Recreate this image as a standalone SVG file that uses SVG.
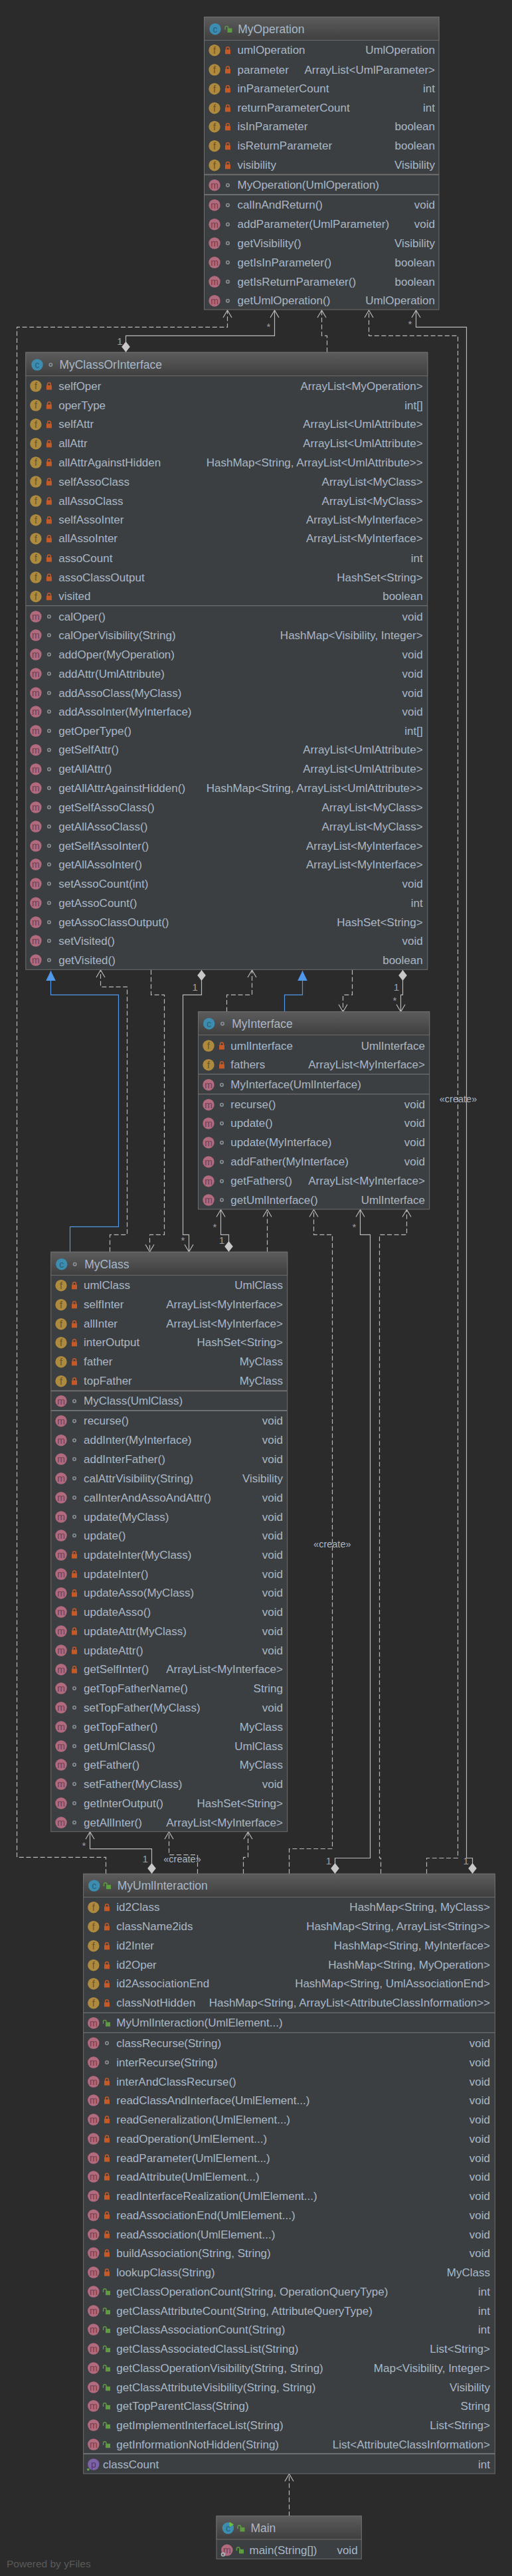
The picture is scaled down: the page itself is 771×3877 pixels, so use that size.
<svg xmlns="http://www.w3.org/2000/svg" width="771" height="3877" viewBox="0 0 771 3877">
<style>
text{font-family:"Liberation Sans",Arial,sans-serif;font-size:17px;fill:#A9B7C6;dominant-baseline:central}
.r{text-anchor:end}
.g{font-size:14px;text-anchor:middle}
.t{font-size:17.5px}
.n{font-size:15px;fill:#A0A0A0;text-anchor:middle}
.cr{font-size:14.5px;text-anchor:middle;fill:#A9B7C6}
.box{fill:#3C3F41;stroke:#6E6E6E;stroke-width:1}
.hd{fill:url(#hg);stroke:#6E6E6E;stroke-width:1}
.sep{stroke:#6E6E6E;stroke-width:1.2;fill:none}
.sep2{stroke:#6E6E6E;stroke-width:2;fill:none}
.c{fill:none;stroke:#B9B9B9;stroke-width:1.2;marker-end:url(#oa)}
.d{stroke-dasharray:7 3.6}
.dm{marker-start:url(#dia)}
.b{fill:none;stroke:#4F98EA;stroke-width:1.2;marker-end:url(#ta)}
</style>
<defs>
<linearGradient id="hg" x1="0" y1="0" x2="0" y2="1"><stop offset="0" stop-color="#5C5C5C"/><stop offset="1" stop-color="#3F3F3F"/></linearGradient>
<marker id="oa" markerUnits="userSpaceOnUse" markerWidth="16" markerHeight="18" refX="13" refY="8" orient="auto"><path d="M2,1.5 L13,8 L2,14.5" fill="none" stroke="#B9B9B9" stroke-width="1.2"/></marker>
<marker id="ta" markerUnits="userSpaceOnUse" markerWidth="18" markerHeight="18" refX="15" refY="8" orient="auto"><path d="M0,0.7 L15,8 L0,15.3Z" fill="#4F98EA"/></marker>
<marker id="dia" markerUnits="userSpaceOnUse" markerWidth="18" markerHeight="15" refX="0" refY="7" orient="auto"><path d="M0,7 L8,0.7 L16,7 L8,13.3Z" fill="#C8C8C8"/></marker>
<g id="if"><circle r="8.7" fill="#AE8A3F"/><text class="g" style="fill:#6B5324">f</text></g>
<g id="im"><circle r="8.7" fill="#B26A7E"/><text class="g" style="fill:#6F3F4C">m</text></g>
<g id="ic"><circle r="8.7" fill="#3C8DB0"/><text class="g" style="fill:#285F78">c</text></g>
<g id="ip"><circle r="8.7" fill="#7C62A6"/><text class="g" style="fill:#4C3A6E">p</text></g>
<g id="lk"><rect x="-4" y="-1.2" width="8" height="6.8" fill="#C45A28"/><path d="M-2.4,-1 v-1.6 a2.4,2.4 0 0 1 4.8,0 v1.6" fill="none" stroke="#C45A28" stroke-width="1.5"/></g>
<g id="ol"><rect x="-1" y="-1.2" width="7" height="6.4" fill="#5E9C42"/><path d="M-4.5,1 v-3 a2.3,2.3 0 0 1 4.6,0 v1.5" fill="none" stroke="#5E9C42" stroke-width="1.4"/></g>
<g id="dt"><circle r="2.2" fill="none" stroke="#8A9298" stroke-width="1.6"/></g>
</defs>
<rect width="771" height="3877" fill="#2B2B2B"/>

<g id="connectors">
<path class="c d" d="M159.5,2820 V2795.3 H25.5 V492.3 H342.5 V467"/>
<path class="c dm" d="M189.5,530 V505.3 H413.5 V467"/>
<path class="c d" d="M492.5,530 V505.3 H484.5 V467"/>
<path class="c d" d="M642.5,2820 V2796.5 H689.5 V505.3 H555.5 V467"/>
<path class="c dm" d="M711.5,2820 V2796.5 H702.5 V492.3 H626.5 V467"/>
<path class="b" d="M105.5,1884 V1846.3 H178.5 V1497.3 H76.5 V1461"/>
<path class="c d" d="M165.5,1884 V1858.3 H191.5 V1485.3 H151.5 V1460"/>
<path class="c d" d="M227.5,1460 V1497.3 H247.5 V1858.3 H225.5 V1884"/>
<path class="c dm" d="M303.5,1460 V1497.3 H275.5 V1858.3 H284.5 V1884"/>
<path class="c d" d="M341.5,1522.7 V1497.3 H379.5 V1460"/>
<path class="b" d="M428.5,1522.7 V1497.3 H455.5 V1461"/>
<path class="c d" d="M530.5,1460 V1497.3 H516.5 V1522.7"/>
<path class="c dm" d="M606.5,1460 V1497.3 H603.5 V1522.7"/>
<path class="c dm" d="M344.5,1884 V1858.3 H332.5 V1820.5"/>
<path class="c d" d="M402.5,1884 V1820.5"/>
<path class="c d" d="M435.5,2820 V2782.5 H500.5 V1858.3 H472.5 V1820.5"/>
<path class="c dm" d="M504.5,2820 V2796.5 H557.5 V1858.3 H542.5 V1820.5"/>
<path class="c d" d="M573.5,2820 V2796.5 H571.5 V1858.3 H612.5 V1820.5"/>
<path class="c dm" d="M228.5,2820 V2782.7 H135.5 V2757"/>
<path class="c d" d="M297.5,2820 V2791.7 H254.5 V2757"/>
<path class="c d" d="M366.5,2820 V2795.3 H373.5 V2757"/>
<path class="c d" d="M435.5,3787 V3723.5"/>
<text class="n" x="404.3" y="491">*</text>
<text class="n" x="617.3" y="487">*</text>
<text class="n" x="180.4" y="513">1</text>
<text class="n" x="293.7" y="1485">1</text>
<text class="n" x="597" y="1485">1</text>
<text class="n" x="594.3" y="1505">*</text>
<text class="n" x="323.3" y="1846">*</text>
<text class="n" x="334" y="1866">1</text>
<text class="n" x="533.3" y="1846">*</text>
<text class="n" x="275.3" y="1866">*</text>
<text class="n" x="126.3" y="2777">*</text>
<text class="n" x="218.7" y="2797">1</text>
<text class="n" x="495" y="2800">1</text>
<text class="n" x="701.7" y="2800">1</text>
<text class="cr" x="274.5" y="2798">«create»</text>
<text class="cr" x="690" y="1654">«create»</text>
<text class="cr" x="500.3" y="2324">«create»</text>
</g>

<g id="MyOperation">
<rect class="box" x="307.5" y="25.5" width="353.5" height="440.5"/>
<rect class="hd" x="307.5" y="25.5" width="353.5" height="35"/>
<use href="#ic" x="324" y="43.7"/><use href="#ol" x="343.5" y="43.7"/><text class="t" x="358.3" y="43.7">MyOperation</text>
<use href="#if" x="323" y="75.7"/><use href="#lk" x="343" y="75.7"/><text x="357.5" y="75.7">umlOperation</text><text class="r" x="655" y="75.7">UmlOperation</text>
<use href="#if" x="323" y="105"/><use href="#lk" x="343" y="105"/><text x="357.5" y="105">parameter</text><text class="r" x="655" y="105">ArrayList&lt;UmlParameter&gt;</text>
<use href="#if" x="323" y="133.7"/><use href="#lk" x="343" y="133.7"/><text x="357.5" y="133.7">inParameterCount</text><text class="r" x="655" y="133.7">int</text>
<use href="#if" x="323" y="162.7"/><use href="#lk" x="343" y="162.7"/><text x="357.5" y="162.7">returnParameterCount</text><text class="r" x="655" y="162.7">int</text>
<use href="#if" x="323" y="190.7"/><use href="#lk" x="343" y="190.7"/><text x="357.5" y="190.7">isInParameter</text><text class="r" x="655" y="190.7">boolean</text>
<use href="#if" x="323" y="219.7"/><use href="#lk" x="343" y="219.7"/><text x="357.5" y="219.7">isReturnParameter</text><text class="r" x="655" y="219.7">boolean</text>
<use href="#if" x="323" y="248.7"/><use href="#lk" x="343" y="248.7"/><text x="357.5" y="248.7">visibility</text><text class="r" x="655" y="248.7">Visibility</text>
<path class="sep2" d="M307.5,262.7 H661"/>
<use href="#im" x="323" y="278.7"/><use href="#dt" x="343" y="278.7"/><text x="357.5" y="278.7">MyOperation(UmlOperation)</text>
<path class="sep2" d="M307.5,293 H661"/>
<use href="#im" x="323" y="308.7"/><use href="#dt" x="343" y="308.7"/><text x="357.5" y="308.7">calInAndReturn()</text><text class="r" x="655" y="308.7">void</text>
<use href="#im" x="323" y="337.7"/><use href="#dt" x="343" y="337.7"/><text x="357.5" y="337.7">addParameter(UmlParameter)</text><text class="r" x="655" y="337.7">void</text>
<use href="#im" x="323" y="366"/><use href="#dt" x="343" y="366"/><text x="357.5" y="366">getVisibility()</text><text class="r" x="655" y="366">Visibility</text>
<use href="#im" x="323" y="395"/><use href="#dt" x="343" y="395"/><text x="357.5" y="395">getIsInParameter()</text><text class="r" x="655" y="395">boolean</text>
<use href="#im" x="323" y="424"/><use href="#dt" x="343" y="424"/><text x="357.5" y="424">getIsReturnParameter()</text><text class="r" x="655" y="424">boolean</text>
<use href="#im" x="323" y="452.7"/><use href="#dt" x="343" y="452.7"/><text x="357.5" y="452.7">getUmlOperation()</text><text class="r" x="655" y="452.7">UmlOperation</text>
</g>

<g id="MyClassOrInterface">
<rect class="box" x="38.8" y="530.3" width="605" height="929"/>
<rect class="hd" x="38.8" y="530.3" width="605" height="35.4"/>
<use href="#ic" x="56" y="549"/><use href="#dt" x="76.3" y="549"/><text class="t" x="89.4" y="549">MyClassOrInterface</text>
<use href="#if" x="53.9" y="581"/><use href="#lk" x="73.9" y="581"/><text x="88.2" y="581">selfOper</text><text class="r" x="636.7" y="581">ArrayList&lt;MyOperation&gt;</text>
<use href="#if" x="53.9" y="610"/><use href="#lk" x="73.9" y="610"/><text x="88.2" y="610">operType</text><text class="r" x="636.7" y="610">int[]</text>
<use href="#if" x="53.9" y="638.7"/><use href="#lk" x="73.9" y="638.7"/><text x="88.2" y="638.7">selfAttr</text><text class="r" x="636.7" y="638.7">ArrayList&lt;UmlAttribute&gt;</text>
<use href="#if" x="53.9" y="667.7"/><use href="#lk" x="73.9" y="667.7"/><text x="88.2" y="667.7">allAttr</text><text class="r" x="636.7" y="667.7">ArrayList&lt;UmlAttribute&gt;</text>
<use href="#if" x="53.9" y="696"/><use href="#lk" x="73.9" y="696"/><text x="88.2" y="696">allAttrAgainstHidden</text><text class="r" x="636.7" y="696">HashMap&lt;String, ArrayList&lt;UmlAttribute&gt;&gt;</text>
<use href="#if" x="53.9" y="725"/><use href="#lk" x="73.9" y="725"/><text x="88.2" y="725">selfAssoClass</text><text class="r" x="636.7" y="725">ArrayList&lt;MyClass&gt;</text>
<use href="#if" x="53.9" y="754"/><use href="#lk" x="73.9" y="754"/><text x="88.2" y="754">allAssoClass</text><text class="r" x="636.7" y="754">ArrayList&lt;MyClass&gt;</text>
<use href="#if" x="53.9" y="782.7"/><use href="#lk" x="73.9" y="782.7"/><text x="88.2" y="782.7">selfAssoInter</text><text class="r" x="636.7" y="782.7">ArrayList&lt;MyInterface&gt;</text>
<use href="#if" x="53.9" y="810.7"/><use href="#lk" x="73.9" y="810.7"/><text x="88.2" y="810.7">allAssoInter</text><text class="r" x="636.7" y="810.7">ArrayList&lt;MyInterface&gt;</text>
<use href="#if" x="53.9" y="840"/><use href="#lk" x="73.9" y="840"/><text x="88.2" y="840">assoCount</text><text class="r" x="636.7" y="840">int</text>
<use href="#if" x="53.9" y="869"/><use href="#lk" x="73.9" y="869"/><text x="88.2" y="869">assoClassOutput</text><text class="r" x="636.7" y="869">HashSet&lt;String&gt;</text>
<use href="#if" x="53.9" y="897.7"/><use href="#lk" x="73.9" y="897.7"/><text x="88.2" y="897.7">visited</text><text class="r" x="636.7" y="897.7">boolean</text>
<path class="sep" d="M38.8,911.7 H643.8"/>
<use href="#im" x="53.9" y="928"/><use href="#dt" x="73.9" y="928"/><text x="88.2" y="928">calOper()</text><text class="r" x="636.7" y="928">void</text>
<use href="#im" x="53.9" y="956"/><use href="#dt" x="73.9" y="956"/><text x="88.2" y="956">calOperVisibility(String)</text><text class="r" x="636.7" y="956">HashMap&lt;Visibility, Integer&gt;</text>
<use href="#im" x="53.9" y="985"/><use href="#dt" x="73.9" y="985"/><text x="88.2" y="985">addOper(MyOperation)</text><text class="r" x="636.7" y="985">void</text>
<use href="#im" x="53.9" y="1014"/><use href="#dt" x="73.9" y="1014"/><text x="88.2" y="1014">addAttr(UmlAttribute)</text><text class="r" x="636.7" y="1014">void</text>
<use href="#im" x="53.9" y="1043"/><use href="#dt" x="73.9" y="1043"/><text x="88.2" y="1043">addAssoClass(MyClass)</text><text class="r" x="636.7" y="1043">void</text>
<use href="#im" x="53.9" y="1071"/><use href="#dt" x="73.9" y="1071"/><text x="88.2" y="1071">addAssoInter(MyInterface)</text><text class="r" x="636.7" y="1071">void</text>
<use href="#im" x="53.9" y="1100"/><use href="#dt" x="73.9" y="1100"/><text x="88.2" y="1100">getOperType()</text><text class="r" x="636.7" y="1100">int[]</text>
<use href="#im" x="53.9" y="1128.7"/><use href="#dt" x="73.9" y="1128.7"/><text x="88.2" y="1128.7">getSelfAttr()</text><text class="r" x="636.7" y="1128.7">ArrayList&lt;UmlAttribute&gt;</text>
<use href="#im" x="53.9" y="1157.7"/><use href="#dt" x="73.9" y="1157.7"/><text x="88.2" y="1157.7">getAllAttr()</text><text class="r" x="636.7" y="1157.7">ArrayList&lt;UmlAttribute&gt;</text>
<use href="#im" x="53.9" y="1186"/><use href="#dt" x="73.9" y="1186"/><text x="88.2" y="1186">getAllAttrAgainstHidden()</text><text class="r" x="636.7" y="1186">HashMap&lt;String, ArrayList&lt;UmlAttribute&gt;&gt;</text>
<use href="#im" x="53.9" y="1215"/><use href="#dt" x="73.9" y="1215"/><text x="88.2" y="1215">getSelfAssoClass()</text><text class="r" x="636.7" y="1215">ArrayList&lt;MyClass&gt;</text>
<use href="#im" x="53.9" y="1244"/><use href="#dt" x="73.9" y="1244"/><text x="88.2" y="1244">getAllAssoClass()</text><text class="r" x="636.7" y="1244">ArrayList&lt;MyClass&gt;</text>
<use href="#im" x="53.9" y="1273"/><use href="#dt" x="73.9" y="1273"/><text x="88.2" y="1273">getSelfAssoInter()</text><text class="r" x="636.7" y="1273">ArrayList&lt;MyInterface&gt;</text>
<use href="#im" x="53.9" y="1301"/><use href="#dt" x="73.9" y="1301"/><text x="88.2" y="1301">getAllAssoInter()</text><text class="r" x="636.7" y="1301">ArrayList&lt;MyInterface&gt;</text>
<use href="#im" x="53.9" y="1330"/><use href="#dt" x="73.9" y="1330"/><text x="88.2" y="1330">setAssoCount(int)</text><text class="r" x="636.7" y="1330">void</text>
<use href="#im" x="53.9" y="1359"/><use href="#dt" x="73.9" y="1359"/><text x="88.2" y="1359">getAssoCount()</text><text class="r" x="636.7" y="1359">int</text>
<use href="#im" x="53.9" y="1388"/><use href="#dt" x="73.9" y="1388"/><text x="88.2" y="1388">getAssoClassOutput()</text><text class="r" x="636.7" y="1388">HashSet&lt;String&gt;</text>
<use href="#im" x="53.9" y="1416"/><use href="#dt" x="73.9" y="1416"/><text x="88.2" y="1416">setVisited()</text><text class="r" x="636.7" y="1416">void</text>
<use href="#im" x="53.9" y="1445"/><use href="#dt" x="73.9" y="1445"/><text x="88.2" y="1445">getVisited()</text><text class="r" x="636.7" y="1445">boolean</text>
</g>

<g id="MyInterface">
<rect class="box" x="298.5" y="1522.7" width="348.2" height="297.3"/>
<rect class="hd" x="298.5" y="1522.7" width="348.2" height="35"/>
<use href="#ic" x="314.7" y="1540.7"/><use href="#dt" x="335" y="1540.7"/><text class="t" x="349.3" y="1540.7">MyInterface</text>
<use href="#if" x="314" y="1574"/><use href="#lk" x="334" y="1574"/><text x="347.3" y="1574">umlInterface</text><text class="r" x="640" y="1574">UmlInterface</text>
<use href="#if" x="314" y="1602.7"/><use href="#lk" x="334" y="1602.7"/><text x="347.3" y="1602.7">fathers</text><text class="r" x="640" y="1602.7">ArrayList&lt;MyInterface&gt;</text>
<path class="sep" d="M298.5,1616.7 H646.7"/>
<use href="#im" x="314" y="1632.7"/><use href="#dt" x="334" y="1632.7"/><text x="347.3" y="1632.7">MyInterface(UmlInterface)</text>
<path class="sep" d="M298.5,1646.7 H646.7"/>
<use href="#im" x="314" y="1662.7"/><use href="#dt" x="334" y="1662.7"/><text x="347.3" y="1662.7">recurse()</text><text class="r" x="640" y="1662.7">void</text>
<use href="#im" x="314" y="1690.7"/><use href="#dt" x="334" y="1690.7"/><text x="347.3" y="1690.7">update()</text><text class="r" x="640" y="1690.7">void</text>
<use href="#im" x="314" y="1719.7"/><use href="#dt" x="334" y="1719.7"/><text x="347.3" y="1719.7">update(MyInterface)</text><text class="r" x="640" y="1719.7">void</text>
<use href="#im" x="314" y="1748.7"/><use href="#dt" x="334" y="1748.7"/><text x="347.3" y="1748.7">addFather(MyInterface)</text><text class="r" x="640" y="1748.7">void</text>
<use href="#im" x="314" y="1777.7"/><use href="#dt" x="334" y="1777.7"/><text x="347.3" y="1777.7">getFathers()</text><text class="r" x="640" y="1777.7">ArrayList&lt;MyInterface&gt;</text>
<use href="#im" x="314" y="1806"/><use href="#dt" x="334" y="1806"/><text x="347.3" y="1806">getUmlInterface()</text><text class="r" x="640" y="1806">UmlInterface</text>
</g>

<g id="MyClass">
<rect class="box" x="76.7" y="1884.3" width="356" height="872.4"/>
<rect class="hd" x="76.7" y="1884.3" width="356" height="35"/>
<use href="#ic" x="92.7" y="1902.7"/><use href="#dt" x="112.7" y="1902.7"/><text class="t" x="127.3" y="1902.7">MyClass</text>
<use href="#if" x="92" y="1934.7"/><use href="#lk" x="112" y="1934.7"/><text x="126" y="1934.7">umlClass</text><text class="r" x="426" y="1934.7">UmlClass</text>
<use href="#if" x="92" y="1963.7"/><use href="#lk" x="112" y="1963.7"/><text x="126" y="1963.7">selfInter</text><text class="r" x="426" y="1963.7">ArrayList&lt;MyInterface&gt;</text>
<use href="#if" x="92" y="1992.7"/><use href="#lk" x="112" y="1992.7"/><text x="126" y="1992.7">allInter</text><text class="r" x="426" y="1992.7">ArrayList&lt;MyInterface&gt;</text>
<use href="#if" x="92" y="2020.7"/><use href="#lk" x="112" y="2020.7"/><text x="126" y="2020.7">interOutput</text><text class="r" x="426" y="2020.7">HashSet&lt;String&gt;</text>
<use href="#if" x="92" y="2049.7"/><use href="#lk" x="112" y="2049.7"/><text x="126" y="2049.7">father</text><text class="r" x="426" y="2049.7">MyClass</text>
<use href="#if" x="92" y="2078.7"/><use href="#lk" x="112" y="2078.7"/><text x="126" y="2078.7">topFather</text><text class="r" x="426" y="2078.7">MyClass</text>
<path class="sep2" d="M76.7,2093.3 H432.7"/>
<use href="#im" x="92" y="2108.7"/><use href="#dt" x="112" y="2108.7"/><text x="126" y="2108.7">MyClass(UmlClass)</text>
<path class="sep2" d="M76.7,2123 H432.7"/>
<use href="#im" x="92" y="2138.7"/><use href="#dt" x="112" y="2138.7"/><text x="126" y="2138.7">recurse()</text><text class="r" x="426" y="2138.7">void</text>
<use href="#im" x="92" y="2167.7"/><use href="#dt" x="112" y="2167.7"/><text x="126" y="2167.7">addInter(MyInterface)</text><text class="r" x="426" y="2167.7">void</text>
<use href="#im" x="92" y="2196"/><use href="#dt" x="112" y="2196"/><text x="126" y="2196">addInterFather()</text><text class="r" x="426" y="2196">void</text>
<use href="#im" x="92" y="2225"/><use href="#dt" x="112" y="2225"/><text x="126" y="2225">calAttrVisibility(String)</text><text class="r" x="426" y="2225">Visibility</text>
<use href="#im" x="92" y="2254"/><use href="#dt" x="112" y="2254"/><text x="126" y="2254">calInterAndAssoAndAttr()</text><text class="r" x="426" y="2254">void</text>
<use href="#im" x="92" y="2283"/><use href="#dt" x="112" y="2283"/><text x="126" y="2283">update(MyClass)</text><text class="r" x="426" y="2283">void</text>
<use href="#im" x="92" y="2311"/><use href="#dt" x="112" y="2311"/><text x="126" y="2311">update()</text><text class="r" x="426" y="2311">void</text>
<use href="#im" x="92" y="2340"/><use href="#lk" x="112" y="2340"/><text x="126" y="2340">updateInter(MyClass)</text><text class="r" x="426" y="2340">void</text>
<use href="#im" x="92" y="2369"/><use href="#lk" x="112" y="2369"/><text x="126" y="2369">updateInter()</text><text class="r" x="426" y="2369">void</text>
<use href="#im" x="92" y="2397.7"/><use href="#lk" x="112" y="2397.7"/><text x="126" y="2397.7">updateAsso(MyClass)</text><text class="r" x="426" y="2397.7">void</text>
<use href="#im" x="92" y="2426"/><use href="#lk" x="112" y="2426"/><text x="126" y="2426">updateAsso()</text><text class="r" x="426" y="2426">void</text>
<use href="#im" x="92" y="2455"/><use href="#lk" x="112" y="2455"/><text x="126" y="2455">updateAttr(MyClass)</text><text class="r" x="426" y="2455">void</text>
<use href="#im" x="92" y="2484"/><use href="#lk" x="112" y="2484"/><text x="126" y="2484">updateAttr()</text><text class="r" x="426" y="2484">void</text>
<use href="#im" x="92" y="2512.7"/><use href="#lk" x="112" y="2512.7"/><text x="126" y="2512.7">getSelfInter()</text><text class="r" x="426" y="2512.7">ArrayList&lt;MyInterface&gt;</text>
<use href="#im" x="92" y="2541"/><use href="#dt" x="112" y="2541"/><text x="126" y="2541">getTopFatherName()</text><text class="r" x="426" y="2541">String</text>
<use href="#im" x="92" y="2570"/><use href="#dt" x="112" y="2570"/><text x="126" y="2570">setTopFather(MyClass)</text><text class="r" x="426" y="2570">void</text>
<use href="#im" x="92" y="2599"/><use href="#dt" x="112" y="2599"/><text x="126" y="2599">getTopFather()</text><text class="r" x="426" y="2599">MyClass</text>
<use href="#im" x="92" y="2628"/><use href="#dt" x="112" y="2628"/><text x="126" y="2628">getUmlClass()</text><text class="r" x="426" y="2628">UmlClass</text>
<use href="#im" x="92" y="2656"/><use href="#dt" x="112" y="2656"/><text x="126" y="2656">getFather()</text><text class="r" x="426" y="2656">MyClass</text>
<use href="#im" x="92" y="2685"/><use href="#dt" x="112" y="2685"/><text x="126" y="2685">setFather(MyClass)</text><text class="r" x="426" y="2685">void</text>
<use href="#im" x="92" y="2714"/><use href="#dt" x="112" y="2714"/><text x="126" y="2714">getInterOutput()</text><text class="r" x="426" y="2714">HashSet&lt;String&gt;</text>
<use href="#im" x="92" y="2743"/><use href="#dt" x="112" y="2743"/><text x="126" y="2743">getAllInter()</text><text class="r" x="426" y="2743">ArrayList&lt;MyInterface&gt;</text>
</g>

<g id="MyUmlInteraction">
<rect class="box" x="125.6" y="2820.3" width="619.7" height="902.7"/>
<rect class="hd" x="125.6" y="2820.3" width="619.7" height="35"/>
<use href="#ic" x="141.7" y="2838"/><use href="#ol" x="161" y="2838"/><text class="t" x="176.7" y="2838">MyUmlInteraction</text>
<use href="#if" x="140.8" y="2870.7"/><use href="#lk" x="161" y="2870.7"/><text x="175.3" y="2870.7">id2Class</text><text class="r" x="738" y="2870.7">HashMap&lt;String, MyClass&gt;</text>
<use href="#if" x="140.8" y="2899.7"/><use href="#lk" x="161" y="2899.7"/><text x="175.3" y="2899.7">className2ids</text><text class="r" x="738" y="2899.7">HashMap&lt;String, ArrayList&lt;String&gt;&gt;</text>
<use href="#if" x="140.8" y="2928.7"/><use href="#lk" x="161" y="2928.7"/><text x="175.3" y="2928.7">id2Inter</text><text class="r" x="738" y="2928.7">HashMap&lt;String, MyInterface&gt;</text>
<use href="#if" x="140.8" y="2957.7"/><use href="#lk" x="161" y="2957.7"/><text x="175.3" y="2957.7">id2Oper</text><text class="r" x="738" y="2957.7">HashMap&lt;String, MyOperation&gt;</text>
<use href="#if" x="140.8" y="2985.7"/><use href="#lk" x="161" y="2985.7"/><text x="175.3" y="2985.7">id2AssociationEnd</text><text class="r" x="738" y="2985.7">HashMap&lt;String, UmlAssociationEnd&gt;</text>
<use href="#if" x="140.8" y="3014.7"/><use href="#lk" x="161" y="3014.7"/><text x="175.3" y="3014.7">classNotHidden</text><text class="r" x="738" y="3014.7">HashMap&lt;String, ArrayList&lt;AttributeClassInformation&gt;&gt;</text>
<path class="sep" d="M125.6,3029.3 H745.3"/>
<use href="#im" x="140.8" y="3044.7"/><use href="#ol" x="160" y="3044.7"/><text x="175.3" y="3044.7">MyUmlInteraction(UmlElement...)</text>
<path class="sep" d="M125.6,3059.3 H745.3"/>
<use href="#im" x="140.8" y="3075"/><use href="#dt" x="161" y="3075"/><text x="175.3" y="3075">classRecurse(String)</text><text class="r" x="738" y="3075">void</text>
<use href="#im" x="140.8" y="3104"/><use href="#dt" x="161" y="3104"/><text x="175.3" y="3104">interRecurse(String)</text><text class="r" x="738" y="3104">void</text>
<use href="#im" x="140.8" y="3133"/><use href="#lk" x="161" y="3133"/><text x="175.3" y="3133">interAndClassRecurse()</text><text class="r" x="738" y="3133">void</text>
<use href="#im" x="140.8" y="3161"/><use href="#lk" x="161" y="3161"/><text x="175.3" y="3161">readClassAndInterface(UmlElement...)</text><text class="r" x="738" y="3161">void</text>
<use href="#im" x="140.8" y="3190"/><use href="#lk" x="161" y="3190"/><text x="175.3" y="3190">readGeneralization(UmlElement...)</text><text class="r" x="738" y="3190">void</text>
<use href="#im" x="140.8" y="3219"/><use href="#lk" x="161" y="3219"/><text x="175.3" y="3219">readOperation(UmlElement...)</text><text class="r" x="738" y="3219">void</text>
<use href="#im" x="140.8" y="3248"/><use href="#lk" x="161" y="3248"/><text x="175.3" y="3248">readParameter(UmlElement...)</text><text class="r" x="738" y="3248">void</text>
<use href="#im" x="140.8" y="3276"/><use href="#lk" x="161" y="3276"/><text x="175.3" y="3276">readAttribute(UmlElement...)</text><text class="r" x="738" y="3276">void</text>
<use href="#im" x="140.8" y="3305"/><use href="#lk" x="161" y="3305"/><text x="175.3" y="3305">readInterfaceRealization(UmlElement...)</text><text class="r" x="738" y="3305">void</text>
<use href="#im" x="140.8" y="3334"/><use href="#lk" x="161" y="3334"/><text x="175.3" y="3334">readAssociationEnd(UmlElement...)</text><text class="r" x="738" y="3334">void</text>
<use href="#im" x="140.8" y="3363"/><use href="#lk" x="161" y="3363"/><text x="175.3" y="3363">readAssociation(UmlElement...)</text><text class="r" x="738" y="3363">void</text>
<use href="#im" x="140.8" y="3391"/><use href="#lk" x="161" y="3391"/><text x="175.3" y="3391">buildAssociation(String, String)</text><text class="r" x="738" y="3391">void</text>
<use href="#im" x="140.8" y="3420"/><use href="#lk" x="161" y="3420"/><text x="175.3" y="3420">lookupClass(String)</text><text class="r" x="738" y="3420">MyClass</text>
<use href="#im" x="140.8" y="3449"/><use href="#ol" x="160" y="3449"/><text x="175.3" y="3449">getClassOperationCount(String, OperationQueryType)</text><text class="r" x="738" y="3449">int</text>
<use href="#im" x="140.8" y="3478"/><use href="#ol" x="160" y="3478"/><text x="175.3" y="3478">getClassAttributeCount(String, AttributeQueryType)</text><text class="r" x="738" y="3478">int</text>
<use href="#im" x="140.8" y="3506"/><use href="#ol" x="160" y="3506"/><text x="175.3" y="3506">getClassAssociationCount(String)</text><text class="r" x="738" y="3506">int</text>
<use href="#im" x="140.8" y="3535"/><use href="#ol" x="160" y="3535"/><text x="175.3" y="3535">getClassAssociatedClassList(String)</text><text class="r" x="738" y="3535">List&lt;String&gt;</text>
<use href="#im" x="140.8" y="3564"/><use href="#ol" x="160" y="3564"/><text x="175.3" y="3564">getClassOperationVisibility(String, String)</text><text class="r" x="738" y="3564">Map&lt;Visibility, Integer&gt;</text>
<use href="#im" x="140.8" y="3593"/><use href="#ol" x="160" y="3593"/><text x="175.3" y="3593">getClassAttributeVisibility(String, String)</text><text class="r" x="738" y="3593">Visibility</text>
<use href="#im" x="140.8" y="3621"/><use href="#ol" x="160" y="3621"/><text x="175.3" y="3621">getTopParentClass(String)</text><text class="r" x="738" y="3621">String</text>
<use href="#im" x="140.8" y="3650"/><use href="#ol" x="160" y="3650"/><text x="175.3" y="3650">getImplementInterfaceList(String)</text><text class="r" x="738" y="3650">List&lt;String&gt;</text>
<use href="#im" x="140.8" y="3679"/><use href="#ol" x="160" y="3679"/><text x="175.3" y="3679">getInformationNotHidden(String)</text><text class="r" x="738" y="3679">List&lt;AttributeClassInformation&gt;</text>
<path class="sep2" d="M125.6,3693 H745.3"/>
<use href="#ip" x="140.8" y="3709"/><circle cx="132.8" cy="3716.8" r="1.8" fill="#5FB04A"/><text x="155.1" y="3709">classCount</text><text class="r" x="738" y="3709">int</text>
</g>

<g id="Main">
<rect class="box" x="326" y="3786.8" width="218.3" height="64.5"/>
<rect class="hd" x="326" y="3786.8" width="218.3" height="35"/>
<use href="#ic" x="343.4" y="3805"/><path d="M345.5,3795.5 L352,3799.5 L345.5,3803.5Z" fill="#6FBF3F"/><use href="#ol" x="362.5" y="3805"/><text class="t" x="377.4" y="3805">Main</text>
<use href="#im" x="341.8" y="3838"/><circle cx="336" cy="3844.5" r="2.4" fill="none" stroke="#A8B0B8" stroke-width="1.8"/><use href="#ol" x="361" y="3838"/><text x="375.5" y="3838">main(String[])</text><text class="r" x="538.6" y="3838">void</text>
</g>

<text x="10" y="3858" style="font-size:15.5px;fill:#5A5A5A">Powered by yFiles</text>
</svg>
